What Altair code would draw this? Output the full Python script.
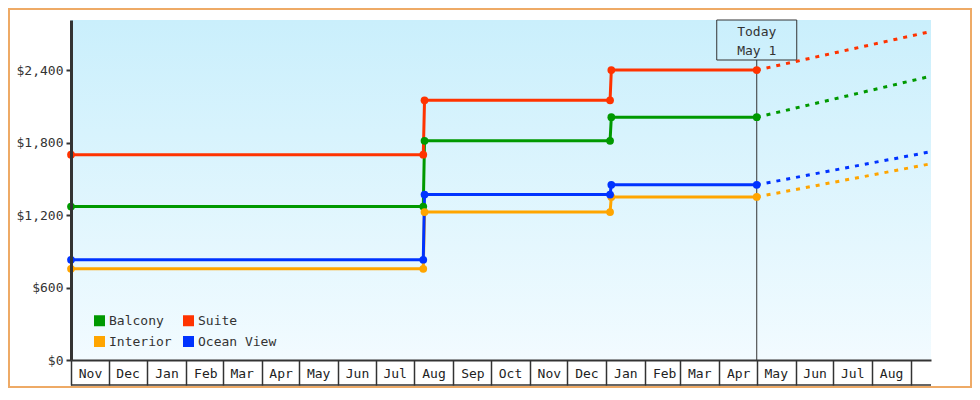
import altair as alt
import pandas as pd

# ---------------- data ----------------
room_types = ["Balcony", "Suite", "Interior", "Ocean View"]
room_colors = ["#009900", "#ff3300", "#ffa500", "#0033ff"]

step_dates = ["2023-11-01", "2024-08-08", "2024-08-09", "2025-01-04", "2025-01-05", "2025-05-01"]
balcony = [1270, 1270, 1815, 1815, 2010, 2010]
suite = [1700, 1700, 2150, 2150, 2400, 2400]
interior = [755, 755, 1225, 1225, 1350, 1350]
ocean_view = [830, 830, 1370, 1370, 1450, 1450]

proj_dates = ["2025-05-01", "2025-09-17"]
balcony_proj = [2010, 2350]
suite_proj = [2400, 2720]
interior_proj = [1350, 1625]
ocean_view_proj = [1450, 1725]

today_date = ["2025-05-01"]
today_lines = ["Today", "May 1"]

x_start = "2023-11-01"
x_end = "2025-09-17"
last_label_month = "2025-09-01"   # month cell that is cut off and left unlabeled
y_max = 2815
y_ticks = [0, 600, 1200, 1800, 2400]

# ---------------- tables ----------------
hist_rows, proj_rows = [], []
for name, vals, pvals in zip(
        room_types,
        [balcony, suite, interior, ocean_view],
        [balcony_proj, suite_proj, interior_proj, ocean_view_proj]):
    for d, v in zip(step_dates, vals):
        hist_rows.append({"type": name, "date": d, "price": v})
    for d, v in zip(proj_dates, pvals):
        proj_rows.append({"type": name, "date": d, "price": v})
hist = pd.DataFrame(hist_rows)
proj = pd.DataFrame(proj_rows)
today_df = pd.DataFrame({"date": today_date})


def ms(s):
    return int(pd.Timestamp(s, tz="UTC").timestamp() * 1000)


W, H = 860, 340
FONT = "DejaVu Sans Mono"

x_enc = alt.X(
    "date:T",
    scale=alt.Scale(type="utc", domain=[ms(x_start), ms(x_end)], nice=False),
    axis=alt.Axis(
        title=None, tickCount=alt.TimeIntervalStep(interval="month", step=1),
        labelExpr=f"datum.value >= {ms(last_label_month)} ? '' : utcFormat(datum.value, '%b')",
        domainColor="#333", domainWidth=2, tickColor="#333", tickWidth=1.5, tickSize=25,
        labelOffset=19, labelAlign="center", labelBaseline="middle", labelPadding=-12,
        labelFont=FONT, labelFontSize=13, labelColor="#222",
        labelOverlap=False, labelBound=False, labelFlush=False, grid=False, zindex=1),
)
y_enc = alt.Y(
    "price:Q",
    scale=alt.Scale(domain=[0, y_max], nice=False, zero=True),
    axis=alt.Axis(
        title=None, values=y_ticks, format="$,.0f",
        domainColor="#333", domainWidth=3, tickColor="#333", tickWidth=2, tickSize=5,
        labelPadding=3, labelFont=FONT, labelFontSize=13, labelColor="#333", grid=False,
        zindex=1),
)
color_scale = alt.Scale(domain=room_types, range=room_colors)
legend = alt.Legend(title=None, orient="none", legendX=22, legendY=294, columns=2,
                    direction="horizontal",
                    zindex=2, symbolType="square", symbolSize=121, symbolStrokeWidth=0,
                    symbolFillColor=None, symbolOpacity=1)
color_enc = alt.Color("type:N", scale=color_scale, sort=room_types, legend=legend)

one = pd.DataFrame({"a": [0]})

bg = alt.Chart(one).mark_rect(
    color=alt.Gradient(
        gradient="linear", x1=0, x2=0, y1=0, y2=1,
        stops=[alt.GradientStop(color="#caeffc", offset=0),
               alt.GradientStop(color="#f2fbff", offset=1)])
).encode(x=alt.value(0), x2=alt.value(W), y=alt.value(0), y2=alt.value(H))

border = alt.Chart(one).mark_rect(
    fillOpacity=0, stroke="#eeaa66", strokeWidth=2
).encode(x=alt.value(-62), x2=alt.value(W + 40), y=alt.value(-11), y2=alt.value(H + 27))

bottom_line = alt.Chart(one).mark_rule(color="#333", strokeWidth=1.5).encode(
    x=alt.value(0), x2=alt.value(W), y=alt.value(H + 25))

points = alt.Chart(hist).mark_point(filled=True, size=60, opacity=1, shape="circle").encode(
    x=x_enc, y=y_enc, color=color_enc)

lines = alt.Chart(hist).mark_line(strokeWidth=3).encode(
    x=x_enc, y=y_enc, color=color_enc)

proj_lines = alt.Chart(proj).mark_line(strokeWidth=3, strokeDash=[4, 6]).encode(
    x=x_enc, y=y_enc, color=color_enc)

today_rule = alt.Chart(today_df).mark_rule(color="#333", strokeWidth=1).encode(
    x="date:T", y=alt.value(40), y2=alt.value(H))

today_box = alt.Chart(today_df).mark_rect(
    fillOpacity=0, stroke="#333", strokeWidth=1, xOffset=-40, x2Offset=40
).encode(x="date:T", x2="date", y=alt.value(0), y2=alt.value(40))

today_t1 = alt.Chart(today_df).transform_calculate(lab=f"'{today_lines[0]}'").mark_text(
    font=FONT, fontSize=13, color="#333", baseline="middle").encode(
    x="date:T", y=alt.value(12), text="lab:N")
today_t2 = alt.Chart(today_df).transform_calculate(lab=f"'{today_lines[1]}'").mark_text(
    font=FONT, fontSize=13, color="#333", baseline="middle").encode(
    x="date:T", y=alt.value(31), text="lab:N")

chart = alt.layer(
    border, bg, bottom_line, today_rule, today_box, today_t1, today_t2,
    lines, proj_lines, points
).properties(
    width=W, height=H,
    autosize=alt.AutoSizeParams(type="none"),
    padding={"left": 63, "top": 12, "right": 41, "bottom": 28},
    background="white",
).configure_view(stroke=None).configure_legend(
    labelFont=FONT, labelFontSize=13, labelColor="#333", labelOffset=3,
    columnPadding=10, rowPadding=7, padding=0,
)

chart.save("out.html", embed_options={"renderer": "svg", "actions": False})
